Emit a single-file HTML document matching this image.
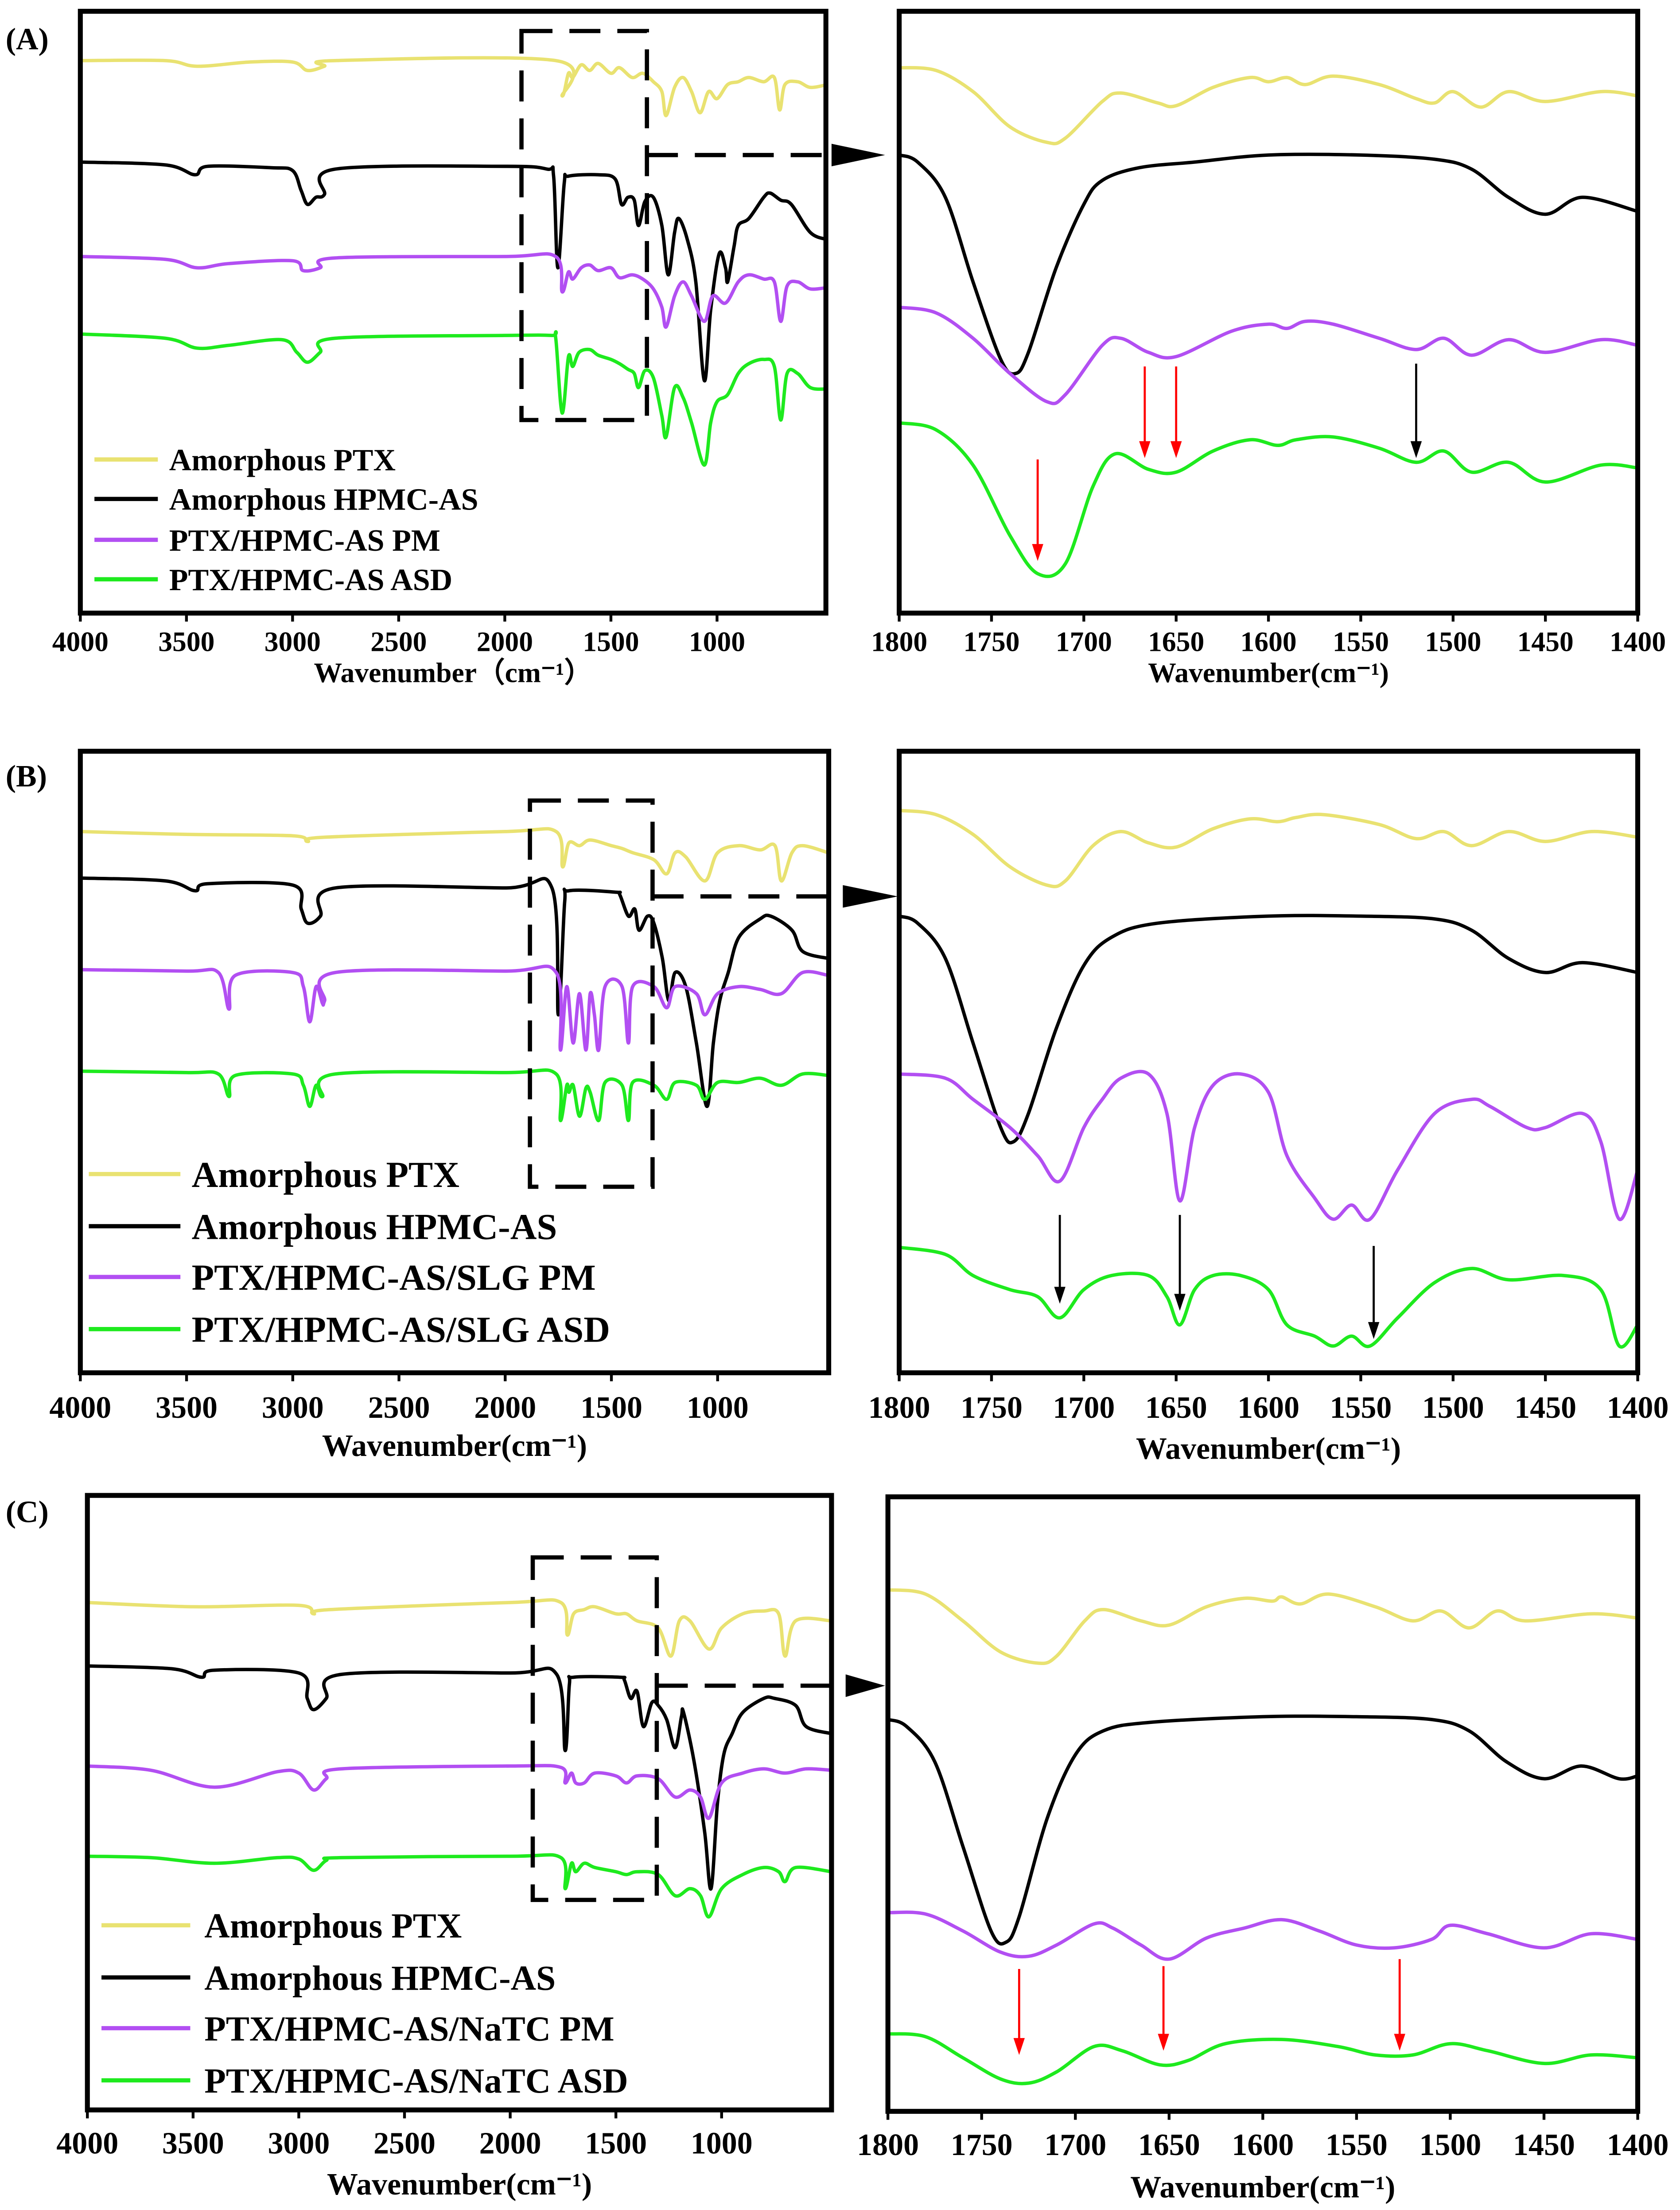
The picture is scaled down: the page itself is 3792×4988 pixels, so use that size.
<!DOCTYPE html>
<html><head><meta charset="utf-8">
<style>
html,body{margin:0;padding:0;background:#fff;}
svg{display:block;}
text{font-family:"Liberation Serif",serif;font-weight:bold;fill:#000;}
</style></head>
<body>
<svg id="fig" xmlns="http://www.w3.org/2000/svg" width="3792" height="4988" viewBox="0 0 1192 1568" preserveAspectRatio="none"></svg>
<script>
// ---------- DATA (wavenumber, absorbance-offset a.u.) ----------
const colors = ["#e9e271","#000000","#b24ff2","#1eea1e"];
const labelsA = ["Amorphous PTX","Amorphous HPMC-AS","PTX/HPMC-AS PM","PTX/HPMC-AS ASD"];
const labelsB = ["Amorphous PTX","Amorphous HPMC-AS","PTX/HPMC-AS/SLG PM","PTX/HPMC-AS/SLG ASD"];
const labelsC = ["Amorphous PTX","Amorphous HPMC-AS","PTX/HPMC-AS/NaTC PM","PTX/HPMC-AS/NaTC ASD"];
const fullTicks = [4000,3500,3000,2500,2000,1500,1000];
const zoomTicks = [1800,1750,1700,1650,1600,1550,1500,1450,1400];

const A_full_PTX = [[4000,43],[3600,43],[3450,47],[3200,44],[3000,44],[2930,50],[2850,47],[2800,43],[1760,43],[1730,68],[1700,52],[1680,55],[1640,46],[1600,50],[1560,45],[1500,52],[1460,48],[1400,55],[1350,52],[1300,58],[1260,65],[1240,82],[1200,62],[1160,55],[1120,65],[1080,80],[1040,65],[1000,70],[950,60],[900,58],[850,55],[780,58],[730,55],[705,78],[680,60],[620,58],[560,62],[480,60]];
const A_full_HPMC = [[4000,115],[3600,117],[3460,124],[3400,118],[3100,119],[3000,121],[2960,135],[2930,145],[2890,140],[2850,138],[2800,120],[2000,118],[1800,120],[1770,125],[1750,190],[1720,130],[1700,125],[1560,124],[1480,127],[1450,145],[1420,140],[1390,142],[1370,160],[1340,143],[1300,140],[1260,160],[1230,195],[1200,165],[1180,155],[1140,170],[1100,200],[1060,270],[1030,220],[990,180],[960,190],[950,200],[920,175],[900,160],[850,155],[780,140],[750,137],[700,142],[650,145],[560,165],[480,170]];
const A_full_PM = [[4000,182],[3600,184],[3450,190],[3300,187],[3000,185],[2950,192],[2870,190],[2800,183],[2000,182],[1760,182],[1730,207],[1700,193],[1680,198],[1640,190],[1600,188],[1560,192],[1500,190],[1460,197],[1400,195],[1350,198],[1300,205],[1260,218],[1240,232],[1200,210],[1160,200],[1120,210],[1060,228],[1020,210],[960,215],[900,200],[850,195],[780,198],[730,200],[700,228],[670,203],[620,200],[560,205],[480,204]];
const A_full_ASD = [[4000,237],[3600,240],[3450,247],[3300,245],[3050,241],[2980,250],[2930,257],[2870,250],[2800,240],[2000,238],[1780,238],[1760,240],[1730,293],[1700,253],[1680,260],[1650,250],[1600,248],[1560,252],[1500,255],[1460,258],[1420,262],[1390,265],[1370,275],[1340,263],[1300,268],[1260,295],[1240,310],[1200,275],[1160,282],[1120,300],[1060,330],[1030,300],[1000,285],[950,280],[900,265],[850,258],[780,255],[730,260],[700,298],[670,265],[620,265],[560,275],[480,276]];

const A_zoom_PTX = [[1800,48],[1780,50],[1760,65],[1740,90],[1720,101],[1710,98],[1690,72],[1680,66],[1660,73],[1650,75],[1630,62],[1610,55],[1600,58],[1590,55],[1580,60],[1565,54],[1540,60],[1520,70],[1510,73],[1500,65],[1485,76],[1470,65],[1450,72],[1420,65],[1400,68]];
const A_zoom_HPMC = [[1800,110],[1790,115],[1775,140],[1760,200],[1745,255],[1737,265],[1730,250],[1715,190],[1700,145],[1690,128],[1670,119],[1640,115],[1600,110],[1550,110],[1510,113],[1490,120],[1470,140],[1450,152],[1430,140],[1400,150]];
const A_zoom_PM = [[1800,218],[1780,222],[1760,240],[1740,265],[1720,285],[1710,280],[1690,245],[1680,240],[1665,250],[1650,253],[1620,235],[1600,230],[1590,233],[1580,228],[1565,230],[1540,240],[1520,248],[1505,240],[1490,252],[1470,241],[1450,250],[1420,241],[1400,245]];
const A_zoom_ASD = [[1800,300],[1780,305],[1760,330],[1740,380],[1725,407],[1710,400],[1695,345],[1683,322],[1665,333],[1650,335],[1630,320],[1610,312],[1595,316],[1585,312],[1565,310],[1540,318],[1520,328],[1505,320],[1490,335],[1470,328],[1450,342],[1420,330],[1400,332]];

const B_full_PTX = [[4000,590],[3500,592],[3000,593],[2930,597],[2850,594],[2000,590],[1760,590],[1730,615],[1700,598],[1650,600],[1600,596],[1500,600],[1450,602],[1400,605],[1300,610],[1240,620],[1200,605],[1150,608],[1060,625],[1000,605],[900,600],[800,603],[730,600],[700,625],[650,605],[600,600],[480,605]];
const B_full_HPMC = [[4000,623],[3600,625],[3460,632],[3400,627],[3000,628],[2960,645],[2930,655],[2870,650],[2800,630],[2000,630],[1780,630],[1750,720],[1720,640],[1700,632],[1480,633],[1460,635],[1420,650],[1390,645],[1370,660],[1330,650],[1300,655],[1260,680],[1230,710],[1200,690],[1150,700],[1100,740],[1050,785],[1020,740],[990,710],[950,690],[900,665],[800,652],[750,650],[650,660],[600,675],[480,680]];
const B_full_PM = [[4000,688],[3500,689],[3350,690],[3300,716],[3270,692],[3000,690],[2950,700],[2920,725],[2890,700],[2860,712],[2850,710],[2800,690],[2000,689],[1760,690],[1740,745],[1710,700],[1680,740],[1650,705],[1620,745],[1600,705],[1580,720],[1560,745],[1530,700],[1450,700],[1420,740],[1400,700],[1300,700],[1240,715],[1200,700],[1100,705],[1060,720],[1000,705],[900,700],[800,702],[700,705],[600,690],[480,692]];
const B_full_ASD = [[4000,760],[3500,761],[3350,762],[3300,778],[3270,763],[3000,762],[2950,770],[2920,785],[2890,770],[2860,778],[2800,762],[2000,761],[1760,762],[1740,795],[1710,770],[1700,775],[1680,770],[1650,792],[1620,772],[1600,775],[1560,795],[1530,768],[1450,770],[1420,795],[1400,768],[1300,770],[1240,780],[1200,768],[1100,770],[1060,780],[1000,768],[900,768],[800,765],[700,770],[600,762],[480,763]];

const B_zoom_PTX = [[1800,575],[1780,578],[1760,592],[1740,615],[1720,628],[1710,625],[1695,600],[1680,590],[1665,598],[1650,601],[1630,588],[1610,581],[1595,583],[1585,580],[1570,578],[1540,585],[1520,595],[1505,590],[1490,600],[1470,590],[1450,597],[1425,590],[1400,594]];
const B_zoom_HPMC = [[1800,650],[1790,655],[1775,680],[1760,740],[1745,800],[1738,810],[1730,790],[1715,730],[1700,685],[1685,665],[1660,655],[1600,650],[1550,650],[1510,652],[1490,660],[1470,680],[1450,690],[1430,683],[1400,690]];
const B_zoom_PM = [[1800,762],[1775,765],[1760,780],[1740,800],[1725,820],[1713,838],[1700,800],[1690,780],[1680,765],[1665,762],[1655,790],[1648,852],[1640,800],[1630,770],[1615,762],[1600,775],[1590,820],[1575,850],[1565,865],[1555,855],[1545,865],[1530,830],[1510,790],[1490,780],[1480,785],[1460,800],[1450,800],[1430,790],[1420,810],[1410,865],[1400,830]];
const B_zoom_ASD = [[1800,885],[1775,890],[1760,905],[1740,915],[1725,920],[1713,935],[1700,915],[1685,905],[1665,905],[1655,920],[1648,940],[1640,915],[1630,905],[1615,905],[1600,915],[1590,940],[1575,948],[1565,955],[1555,948],[1545,955],[1530,935],[1510,910],[1490,900],[1470,908],[1440,905],[1420,915],[1410,955],[1400,940]];

const C_full_PTX = [[4000,1137],[3500,1140],[3000,1139],[2930,1145],[2850,1142],[2000,1137],[1760,1137],[1730,1160],[1700,1145],[1650,1142],[1600,1140],[1500,1145],[1450,1145],[1400,1150],[1300,1155],[1240,1175],[1200,1150],[1150,1150],[1060,1170],[1000,1155],[900,1145],[800,1143],[730,1145],[700,1175],[650,1150],[480,1150]];
const C_full_HPMC = [[4000,1182],[3600,1184],[3460,1190],[3400,1185],[3000,1187],[2960,1205],[2930,1213],[2870,1205],[2800,1188],[2000,1187],[1780,1188],[1740,1242],[1720,1195],[1700,1190],[1480,1190],[1460,1192],[1430,1205],[1400,1200],[1370,1225],[1330,1208],[1300,1210],[1260,1220],[1220,1240],[1190,1218],[1180,1215],[1130,1250],[1080,1300],[1050,1340],[1020,1280],[990,1245],[950,1230],[900,1215],[800,1205],[750,1205],[650,1210],[600,1225],[480,1230]];
const C_full_PM = [[4000,1253],[3700,1256],[3400,1268],[3100,1257],[3000,1258],[2930,1270],[2870,1262],[2800,1255],[2000,1253],[1760,1254],[1740,1265],[1710,1258],[1690,1265],[1650,1265],[1600,1258],[1500,1260],[1450,1265],[1400,1260],[1300,1262],[1220,1275],[1150,1270],[1100,1275],[1060,1290],[1000,1265],[900,1258],[800,1255],[700,1258],[600,1255],[480,1256]];
const C_full_ASD = [[4000,1317],[3700,1318],[3400,1322],[3100,1318],[3000,1319],[2930,1327],[2870,1320],[2800,1318],[2000,1317],[1760,1318],[1740,1340],[1710,1322],[1690,1328],[1650,1322],[1600,1325],[1500,1328],[1450,1330],[1400,1328],[1300,1330],[1220,1345],[1150,1340],[1100,1345],[1060,1360],[1000,1340],[900,1330],[800,1325],[730,1328],[700,1335],[650,1325],[480,1328]];

const C_zoom_PTX = [[1800,1128],[1780,1131],[1760,1150],[1740,1172],[1720,1180],[1710,1175],[1695,1150],[1685,1142],[1665,1150],[1650,1153],[1630,1140],[1610,1134],[1595,1136],[1590,1133],[1580,1138],[1565,1131],[1540,1140],[1520,1150],[1505,1143],[1490,1155],[1475,1143],[1460,1150],[1425,1145],[1400,1148]];
const C_zoom_HPMC = [[1800,1220],[1790,1225],[1775,1250],[1760,1310],[1745,1370],[1737,1378],[1730,1360],[1715,1290],[1700,1245],[1685,1228],[1660,1222],[1600,1218],[1550,1218],[1510,1220],[1490,1228],[1470,1250],[1450,1262],[1430,1253],[1410,1262],[1400,1260]];
const C_zoom_PM = [[1800,1357],[1780,1358],[1760,1370],[1740,1385],[1725,1388],[1710,1380],[1690,1365],[1680,1368],[1665,1380],[1650,1390],[1630,1375],[1610,1368],[1590,1362],[1570,1370],[1550,1380],[1530,1382],[1510,1376],[1500,1366],[1480,1372],[1450,1382],[1425,1372],[1400,1376]];
const C_zoom_ASD = [[1800,1443],[1780,1445],[1760,1460],[1740,1475],[1725,1478],[1710,1470],[1690,1452],[1675,1455],[1655,1465],[1640,1462],[1620,1450],[1590,1447],[1560,1452],[1540,1458],[1520,1458],[1500,1450],[1480,1455],[1450,1464],[1425,1458],[1400,1460]];

const A_arrows = [[1725,326,398,"red"],[1667,260,325,"red"],[1650,260,325,"red"],[1520,258,325,"black"]];
const B_arrows = [[1713,862,925,"black"],[1648,862,930,"black"],[1543,884,950,"black"]];
const C_arrows = [[1730,1397,1458,"red"],[1653,1395,1455,"red"],[1527,1390,1455,"red"]];

// ---------- DRAW ----------
const NS="http://www.w3.org/2000/svg";
const svg=document.getElementById('fig');
function el(tag,attrs,parent){const e=document.createElementNS(NS,tag);for(const k in attrs)e.setAttribute(k,attrs[k]);(parent||svg).appendChild(e);return e;}
function txt(x,y,s,size,anchor,parent){const t=el('text',{x:x,y:y,'font-size':size,'text-anchor':anchor||'middle'},parent);t.textContent=s;return t;}
function mkX(x0,x1,d0,d1){return v=>x0+(v-d0)/(d1-d0)*(x1-x0);}
function mkY(y0,y1){return v=>y0+(v-y0)/(y1-y0)*(y1-y0);}
function smoothPath(pts){let d="M"+pts[0][0].toFixed(2)+","+pts[0][1].toFixed(2);
 for(let i=0;i<pts.length-1;i++){const p0=pts[Math.max(i-1,0)],p1=pts[i],p2=pts[i+1],p3=pts[Math.min(i+2,pts.length-1)];
 const c1=[p1[0]+(p2[0]-p0[0])/6,p1[1]+(p2[1]-p0[1])/6],c2=[p2[0]-(p3[0]-p1[0])/6,p2[1]-(p3[1]-p1[1])/6];
 d+="C"+c1[0].toFixed(2)+","+c1[1].toFixed(2)+" "+c2[0].toFixed(2)+","+c2[1].toFixed(2)+" "+p2[0].toFixed(2)+","+p2[1].toFixed(2);}
 return d;}

function plot(name,box,dom,ticks,series,tickSize,titleY,labelY,titleText){
 const g=el('g',{});
 
 
 const sx=mkX(box.x0,box.x1,dom[0],dom[1]);const sy=mkY(box.y0,box.y1);
 const clip=el('clipPath',{id:name+'-clip'},g);el('rect',{x:box.x0,y:box.y0,width:box.x1-box.x0,height:box.y1-box.y0},clip);
 const sg=el('g',{'clip-path':'url(#'+name+'-clip)'},g);
 series.forEach((s,i)=>{const p=el('path',{d:smoothPath(s.map(q=>[sx(q[0]),sy(q[1])])),fill:'none',stroke:colors[i],'stroke-width':2.4,'stroke-linejoin':'round'},sg);
  
  });
 const fr=el('rect',{x:box.x0,y:box.y0,width:box.x1-box.x0,height:box.y1-box.y0,fill:'none',stroke:'#000','stroke-width':3.5},g);
 
 
 ticks.forEach(t=>{const x=sx(t);el('line',{x1:x,x2:x,y1:box.y1,y2:box.y1+6,stroke:'#000','stroke-width':2},g);
  const tl=txt(x,labelY,String(t),tickSize,'middle',g);
  
  });
 const at=txt((box.x0+box.x1)/2,titleY,titleText,tickSize,'middle',g);
 
 
 return {sx,sy};
}
function arrows(sc,list,name){list.forEach(a=>{const x=sc.sx(a[0]);
 const l=el('line',{x1:x,x2:x,y1:a[1],y2:a[2]-10,stroke:a[3],'stroke-width':1.5});
 
 
 el('polygon',{points:`${x-4},${a[2]-12} ${x+4},${a[2]-12} ${x},${a[2]}`,fill:a[3]});});}
function dashBox(x0,y0,x1,y1,ax,ay,ah0,ah1){
 const r=el('rect',{x:x0,y:y0,width:x1-x0,height:y1-y0,fill:'none',stroke:'#000','stroke-width':3,'stroke-dasharray':'22,12'});
 
 
 const l=el('line',{x1:x1,y1:ay,x2:ah0-4,y2:ay,stroke:'#000','stroke-width':3,'stroke-dasharray':'22,12'});
 
 
 el('polygon',{points:`${ah0},${ay-8} ${ah1},${ay} ${ah0},${ay+8}`,fill:'#000'});}
function legend(x0,x1,tx,ys,labels,size,name){labels.forEach((s,i)=>{
 el('line',{x1:x0,x2:x1,y1:ys[i],y2:ys[i],stroke:colors[i],'stroke-width':3});
 const t=txt(tx,ys[i]+size*0.35,s,size,'start');
 
 });}
function panelLabel(x,y,s){const t=txt(x,y,s,22,'start');}

// Panel A
panelLabel(4,35,"(A)");
plot('panel-a-full',{x0:57,x1:586,y0:8,y1:435},[4000,487],fullTicks,[A_full_PTX,A_full_HPMC,A_full_PM,A_full_ASD],20,484,462,"Wavenumber（cm⁻¹）");
const aZ=plot('panel-a-zoom',{x0:638,x1:1162,y0:8,y1:435},[1800,1400],zoomTicks,[A_zoom_PTX,A_zoom_HPMC,A_zoom_PM,A_zoom_ASD],20,484,462,"Wavenumber(cm⁻¹)");
arrows(aZ,A_arrows,'peak-arrow');
dashBox(370,22,459,298,0,110,590,628);
legend(67,112,120,[326,354,383,411],labelsA,22,'legend-a');

// Panel B
panelLabel(4,558,"(B)");
plot('panel-b-full',{x0:57,x1:588,y0:533,y1:974},[4000,477],fullTicks,[B_full_PTX,B_full_HPMC,B_full_PM,B_full_ASD],22,1033,1006,"Wavenumber(cm⁻¹)");
const bZ=plot('panel-b-zoom',{x0:638,x1:1162,y0:533,y1:974},[1800,1400],zoomTicks,[B_zoom_PTX,B_zoom_HPMC,B_zoom_PM,B_zoom_ASD],22,1035,1006,"Wavenumber(cm⁻¹)");
arrows(bZ,B_arrows,'peak-arrow');
dashBox(376,568,463,842,0,636,598,637);
legend(63,128,136,[833,870,906,943],labelsB,26,'legend-b');

// Panel C
panelLabel(4,1080,"(C)");
plot('panel-c-full',{x0:62,x1:590,y0:1061,y1:1497},[4000,480],fullTicks,[C_full_PTX,C_full_HPMC,C_full_PM,C_full_ASD],22,1557,1528,"Wavenumber(cm⁻¹)");
const cZ=plot('panel-c-zoom',{x0:630,x1:1162,y0:1062,y1:1498},[1800,1400],zoomTicks,[C_zoom_PTX,C_zoom_HPMC,C_zoom_PM,C_zoom_ASD],22,1559,1529,"Wavenumber(cm⁻¹)");
arrows(cZ,C_arrows,'peak-arrow');
dashBox(378,1105,466,1348,0,1196,600,628);
legend(72,135,145,[1366,1403,1439,1476],labelsC,25,'legend-c');
</script>
</body></html>
